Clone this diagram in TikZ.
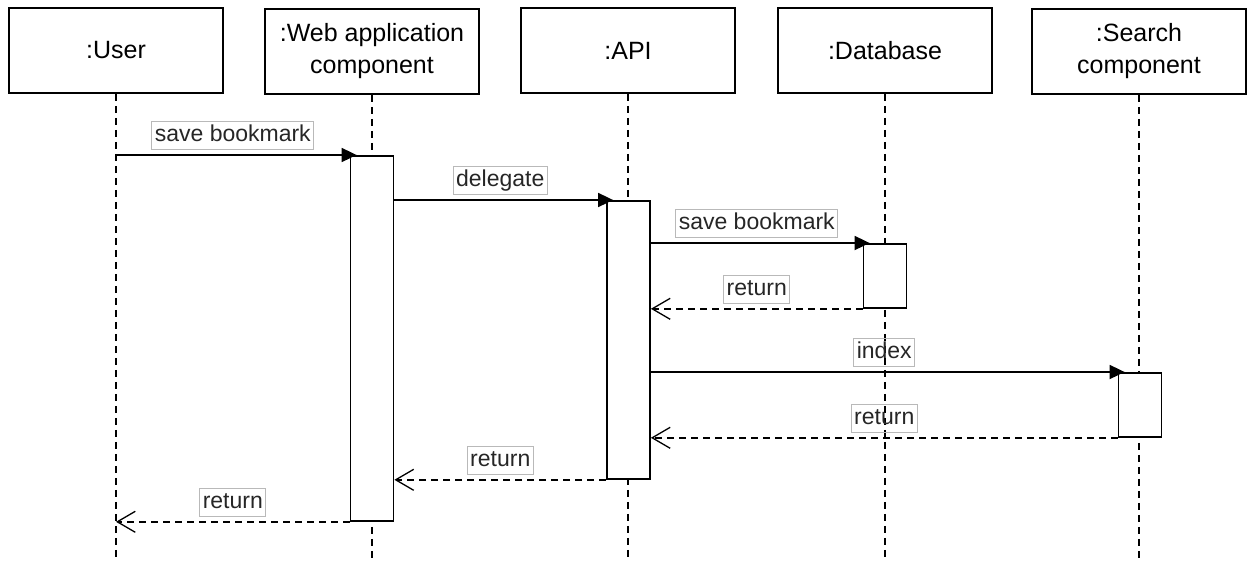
\documentclass[tikz,border=0pt]{standalone}
\usepackage{fontspec}
\setmainfont{Liberation Sans}
\usetikzlibrary{arrows.meta}
\begin{document}
\begin{tikzpicture}[x=1pt,y=-1pt,
  head/.style={draw, line width=1.8pt, minimum width=214pt, minimum height=85pt,
    inner sep=0pt, align=center, font=\fontsize{25}{32}\selectfont},
  act/.style={draw, fill=white, line width=1.8pt, minimum width=43pt,
    inner sep=0pt, anchor=north},
  life/.style={line width=1.8pt, dash pattern=on 7pt off 5pt},
  call/.style={line width=1.8pt, -{Triangle[length=15pt,width=14pt]}, shorten >=-7pt},
  reply/.style={line width=1.8pt, dash pattern=on 7pt off 5pt,
    -{Straight Barb[length=18pt,width=21pt,line width=1.3pt]}},
  lbl/.style={draw=gray!55, solid, line width=0.8pt, text=black!85,
    font=\fontsize{23}{27}\selectfont,
    text height=17pt, text depth=5pt, inner xsep=3pt, inner ysep=3pt}]
\useasboundingbox (0,0) rectangle (1247,560);
\coordinate (bottom) at (0,560);

% participants
\node[head] (user) at (116,50.5) {:User};
\node[head] (web)  at (372,51.5) {:Web application\\component};
\node[head] (api)  at (628,50.5) {:API};
\node[head] (db)   at (885,50.5) {:Database};
\node[head] (srch) at (1139,51.5) {:Search\\component};

% lifelines
\foreach \p in {user,web,api,db,srch}
  \draw[life] (\p.south) -- (\p.south |- bottom);

% activation bars
\node[act, minimum height=365pt] (webA)  at (372,155) {};
\node[act, minimum height=278pt] (apiA)  at (628.5,200) {};
\node[act, minimum height=64pt]  (dbA)   at (885,243) {};
\node[act, minimum height=64pt]  (srchA) at (1140,372) {};

% calls
\draw[call] (user |- webA.north) -- node[lbl, above=5pt] {save bookmark} (webA.north west);
\draw[call] (webA.east |- apiA.north) -- node[lbl, above=5pt] {delegate} (apiA.north west);
\draw[call] (apiA.east |- dbA.north) -- node[lbl, above=5pt] {save bookmark} (dbA.north west);
\draw[call] (apiA.east |- srchA.north) -- node[lbl, above=5pt] {index} (srchA.north west);

% replies
\draw[reply] (dbA.south west) -- node[lbl, above=5pt] {return} (apiA.east |- dbA.south);
\draw[reply] (srchA.south west) -- node[lbl, above=5pt] {return} (apiA.east |- srchA.south);
\draw[reply] (apiA.south west) -- node[lbl, above=5pt] {return} (webA.east |- apiA.south);
\draw[reply] (webA.south west) -- node[lbl, above=5pt] {return} (user |- webA.south);
\end{tikzpicture}
\end{document}
